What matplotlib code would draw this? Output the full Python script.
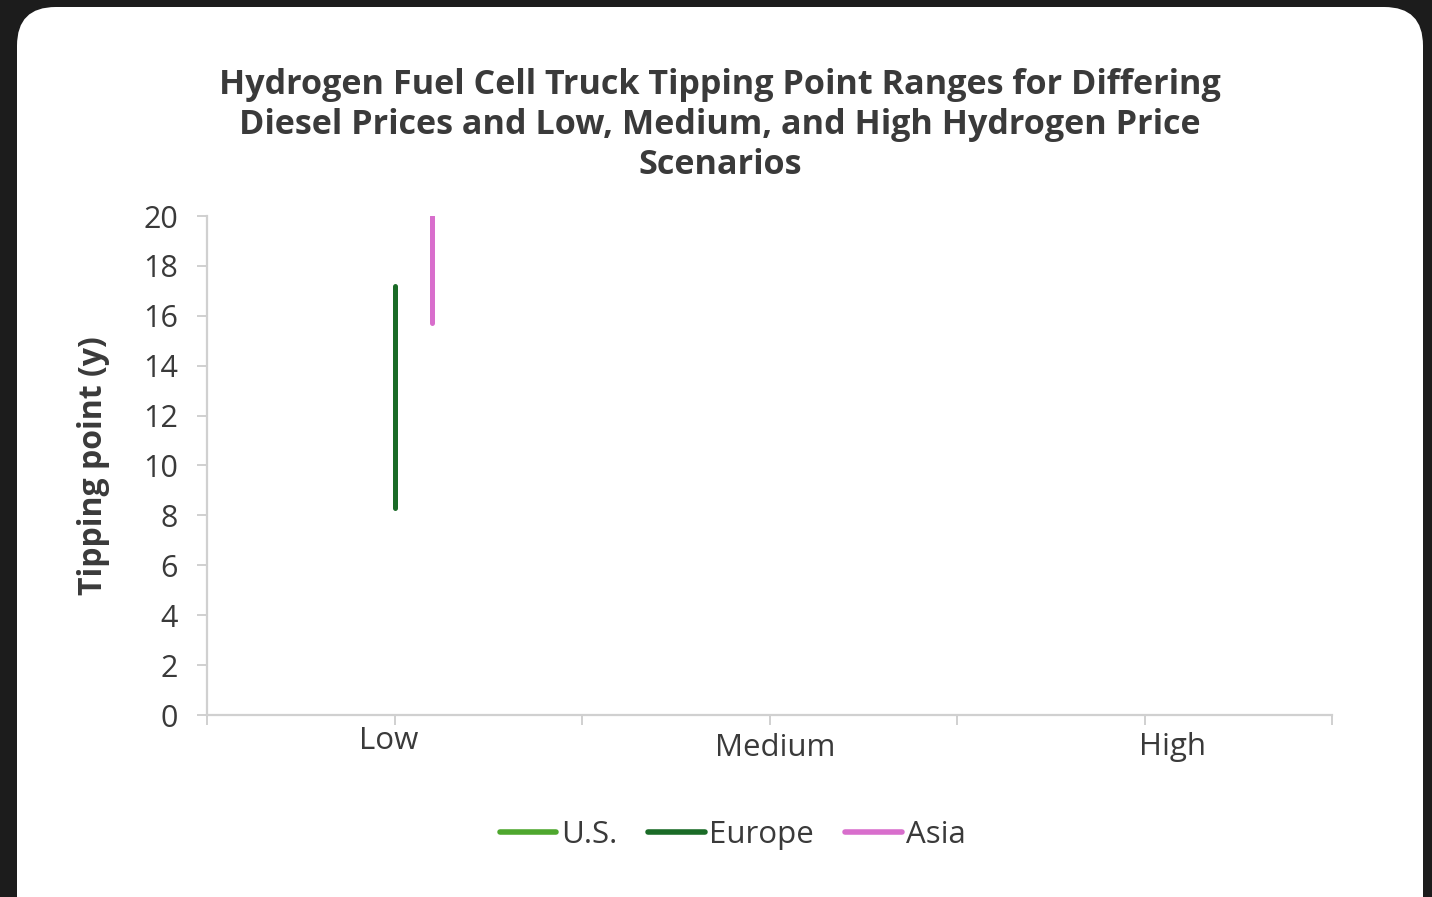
import numpy as np
import matplotlib.pyplot as plt
from matplotlib.patches import FancyBboxPatch
from matplotlib.transforms import ScaledTranslation

plt.rcParams['font.family'] = ['Open Sans', 'DejaVu Sans']

# hydrogen price scenarios
scenarios = ['Low', 'Medium', 'High']

# tipping point ranges (years), NaN where no range is shown
us_low = [np.nan, np.nan, np.nan]
us_high = [np.nan, np.nan, np.nan]
europe_low = [8.3, np.nan, np.nan]
europe_high = [17.2, np.nan, np.nan]
asia_low = [15.7, np.nan, np.nan]
asia_high = [20.0, np.nan, np.nan]

series = [
    ('U.S.', us_low, us_high, '#4ea72e', -0.1),
    ('Europe', europe_low, europe_high, '#1a6b27', 0.0),
    ('Asia', asia_low, asia_high, '#d86ecc', 0.1),
]

text_col = '#3a3a3a'
grid_col = '#d0d0d0'

fig = plt.figure(figsize=(14.32, 8.97), dpi=100)
fig.patch.set_facecolor('#1c1c1c')

# white rounded card behind everything
card = FancyBboxPatch((17 / 1432, -0.05), (1423 - 17) / 1432, 1.05 - 7 / 897,
                      boxstyle='round,pad=0,rounding_size=0.027',
                      transform=fig.transFigure, facecolor='white',
                      edgecolor='none', mutation_aspect=1432 / 897, zorder=-10)
fig.patches.append(card)

ax = fig.add_axes([207 / 1432, 1 - 715 / 897, 1125 / 1432, 499 / 897])
ax.set_facecolor('none')

for name, lo, hi, col, off in series:
    for i in range(len(scenarios)):
        ax.plot([i + off, i + off], [lo[i], hi[i]], color=col, lw=3.6,
                solid_capstyle='round', clip_on=True)
    ax.plot([], [], color=col, lw=4.0, solid_capstyle='round', label=name)

ax.set_xlim(-0.5, 2.5)
ax.set_ylim(0, 20)
ax.set_yticks(np.arange(0, 21, 2))
ax.set_xticks(np.arange(-0.5, 2.51, 0.5))
ax.set_xticklabels([])

for s in ['top', 'right']:
    ax.spines[s].set_visible(False)
for s in ['left', 'bottom']:
    ax.spines[s].set_color(grid_col)
    ax.spines[s].set_linewidth(1.6)

ax.tick_params(axis='both', colors=grid_col, length=7, width=1.4)
ax.tick_params(axis='y', labelcolor=text_col, labelsize=22, pad=14)

# category labels sit a little unevenly under the axis
label_offsets = [(-4, -19), (4, -24), (20, -23)]
for i, (lab, (dx, dy)) in enumerate(zip(scenarios, label_offsets)):
    tr = ax.get_xaxis_transform() + ScaledTranslation(dx / 72, dy / 72, fig.dpi_scale_trans)
    ax.text(i, 0, lab, transform=tr, ha='center', va='center',
            fontsize=22.5, color=text_col)

ax.set_ylabel('Tipping point (y)', fontsize=23, fontweight='bold',
              color=text_col, labelpad=24)

fig.text(720 / 1432, 1 - 125 / 897,
         'Hydrogen Fuel Cell Truck Tipping Point Ranges for Differing\n'
         'Diesel Prices and Low, Medium, and High Hydrogen Price\n'
         'Scenarios',
         ha='center', va='center', fontsize=24.6, fontweight='bold',
         color=text_col, linespacing=1.22)

leg = fig.legend(loc='center', bbox_to_anchor=(733 / 1432, 1 - 835 / 897),
                 ncol=3, frameon=False, fontsize=22.5, handlelength=1.8,
                 handletextpad=0.15, columnspacing=1.0)
for t in leg.get_texts():
    t.set_color(text_col)

fig.savefig('out.png', dpi=100, facecolor=fig.get_facecolor())
